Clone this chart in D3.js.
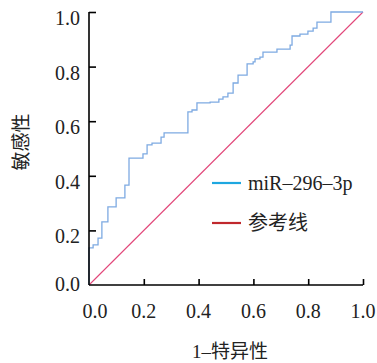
<!DOCTYPE html>
<html><head><meta charset="utf-8">
<script src="https://cdn.jsdelivr.net/npm/d3@7"></script>
<style>body{margin:0;background:#fff}svg{display:block}</style>
</head><body>
<svg id="c" width="377" height="363"></svg>
<script>
// ROC corner points (1-specificity, sensitivity)
const fpr = [0, 0, 0.015, 0.033, 0.047, 0.069, 0.099, 0.131, 0.146, 0.197, 0.212, 0.230, 0.263, 0.274, 0.361, 0.376, 0.394, 0.442, 0.474, 0.489, 0.507, 0.526, 0.544, 0.577, 0.599, 0.606, 0.624, 0.635, 0.686, 0.734, 0.741, 0.770, 0.799, 0.818, 0.832, 0.883, 1.0];
const tpr = [0, 0.136, 0.147, 0.172, 0.231, 0.286, 0.319, 0.366, 0.465, 0.480, 0.513, 0.520, 0.542, 0.557, 0.634, 0.641, 0.667, 0.670, 0.681, 0.689, 0.703, 0.740, 0.769, 0.810, 0.817, 0.828, 0.835, 0.853, 0.864, 0.879, 0.912, 0.919, 0.930, 0.941, 0.963, 1.0, 1.0];
const refLine = [0, 1];
const tickValues = [0, 0.2, 0.4, 0.6, 0.8, 1.0];
const tickLabels = ["0.0", "0.2", "0.4", "0.6", "0.8", "1.0"];
const legendLabels = ["miR–296–3p", "参考线"];
const legendColors = ["#1ea7e0", "#c0282d"];
const xTitle = "1–特异性";
const yTitle = "敏感性";

const svg = d3.select("#c");
const x = d3.scaleLinear().domain([0, 1]).range([89, 363]);
const y = d3.scaleLinear().domain([0, 1]).range([285, 12]);
const serif = "'Liberation Serif','Times New Roman','Noto Sans CJK SC',serif";

// reference diagonal
svg.append("line")
  .attr("x1", x(refLine[0])).attr("y1", y(refLine[0]))
  .attr("x2", x(refLine[1])).attr("y2", y(refLine[1]))
  .attr("stroke", "#e2477a").attr("stroke-width", 1.1);

// ROC curve
const pts = fpr.map((f, i) => [f, tpr[i]]);
svg.append("path")
  .datum(pts)
  .attr("fill", "none")
  .attr("stroke", "#7eaae2")
  .attr("stroke-width", 1.3)
  .attr("d", d3.line().x(d => x(d[0])).y(d => y(d[1])).curve(d3.curveStepAfter));

// axes
const xAxis = svg.append("g").attr("transform", `translate(0,${y(0)})`)
  .call(d3.axisTop(x).tickValues(tickValues.slice(1)).tickSize(6).tickFormat(""));
const yAxis = svg.append("g").attr("transform", `translate(${x(0)},0)`)
  .call(d3.axisRight(y).tickValues(tickValues.slice(1)).tickSize(7).tickFormat(""));
[xAxis, yAxis].forEach(g => {
  g.select(".domain").attr("stroke", "#000").attr("stroke-width", 1.6);
  g.selectAll(".tick line").attr("stroke", "#000").attr("stroke-width", 1.6);
});
xAxis.select(".domain").attr("d", `M${x(0)},0H${x(1)}`);
yAxis.select(".domain").attr("d", `M0,${y(0)}V${y(1)}`);

// tick labels
svg.append("g").selectAll("text").data(tickValues).join("text")
  .attr("x", (d, i) => x(d) + (i === 0 ? 6 : 0))
  .attr("y", 318)
  .attr("text-anchor", "middle")
  .attr("font-family", serif).attr("font-size", 20).attr("fill", "#222")
  .text((d, i) => tickLabels[i]);
svg.append("g").selectAll("text").data(tickValues).join("text")
  .attr("x", 80)
  .attr("y", (d, i) => y(d) + (i === 0 ? -1.5 : 6))
  .attr("dy", "0.35em")
  .attr("text-anchor", "end")
  .attr("font-family", serif).attr("font-size", 20).attr("fill", "#222")
  .text((d, i) => tickLabels[i]);

// axis titles
svg.append("text")
  .attr("x", 230).attr("y", 358)
  .attr("text-anchor", "middle")
  .attr("font-family", serif).attr("font-size", 19).attr("fill", "#222")
  .text(xTitle);
svg.append("text")
  .attr("transform", "translate(21,142) rotate(-90)")
  .attr("dy", "0.35em")
  .attr("text-anchor", "middle")
  .attr("font-family", serif).attr("font-size", 19).attr("fill", "#222")
  .text(yTitle);

// legend
const leg = svg.append("g").selectAll("g").data(legendLabels).join("g")
  .attr("transform", (d, i) => `translate(212,${183 + i * 40})`);
leg.append("line").attr("x1", 0).attr("x2", 29).attr("y1", 0).attr("y2", 0)
  .attr("stroke", (d, i) => legendColors[i]).attr("stroke-width", 2.2);
leg.append("text").attr("x", 36).attr("y", 0).attr("dy", "0.35em")
  .attr("font-family", serif).attr("font-size", 20).attr("fill", "#222")
  .text(d => d);
</script>
</body></html>
